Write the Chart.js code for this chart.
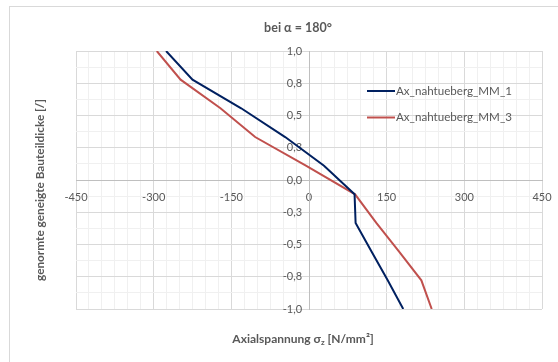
<!DOCTYPE html>
<html>
<head>
<meta charset="utf-8">
<script src="https://cdn.jsdelivr.net/npm/chart.js@4/dist/chart.umd.min.js"></script>
<style>
  html, body { margin: 0; padding: 0; background: #ffffff; }
  #wrap { width: 558px; height: 362px; position: relative; }
</style>
</head>
<body>
<div id="wrap"><canvas id="c" width="558" height="362"></canvas></div>
<script>
// normalised inclined wall thickness (nodes through the section)
const thickness = [1.0, 0.778, 0.556, 0.333, 0.111, -0.111, -0.333, -0.556, -0.778, -1.0];
// axial stress sigma_z in N/mm² for both models
const stressMM1 = [-276, -225, -131, -46, 29, 88, 90, 121, 152, 182];
const stressMM3 = [-294, -248, -171, -104, -6, 89, 130, 174, 217, 237];
const seriesNames = ['Ax_nahtueberg_MM_1', 'Ax_nahtueberg_MM_3'];
const seriesColors = ['#002060', '#C0504D'];
const chartTitle = 'bei \u03b1 = 180\u00b0';
const yTitle = 'genormte geneigte Bauteildicke [/]';

const FONT = 'Lato, "DejaVu Sans", sans-serif';
const TEXT = '#595959';

const toPoints = (xs) => xs.map((x, i) => ({ x: x, y: thickness[i] }));

// frame, titles and in-plot legend
const decor = {
  id: 'decor',
  beforeDraw(chart) {
    const ctx = chart.ctx;
    ctx.save();
    ctx.fillStyle = '#ffffff';
    ctx.fillRect(0, 0, chart.width, chart.height);
    ctx.strokeStyle = '#D9D9D9';
    ctx.lineWidth = 1;
    ctx.strokeRect(9.5, 6.5, 600, 400);
    ctx.restore();
  },
  afterDraw(chart) {
    const ctx = chart.ctx;
    ctx.save();
    ctx.fillStyle = TEXT;
    ctx.textBaseline = 'middle';

    // chart title
    ctx.font = 'bold 12.5px ' + FONT;
    ctx.textAlign = 'center';
    ctx.fillText(chartTitle, 298, 28);

    // x axis title with subscript
    const partA = 'Axialspannung \u03c3';
    const partSub = 'z';
    const partB = ' [N/mm\u00b2]';
    ctx.font = 'bold 12px ' + FONT;
    const wA = ctx.measureText(partA).width;
    const wB = ctx.measureText(partB).width;
    ctx.font = 'bold 8px ' + FONT;
    const wS = ctx.measureText(partSub).width;
    const x0 = 303 - (wA + wS + wB) / 2;
    const yT = 339;
    ctx.textAlign = 'left';
    ctx.font = 'bold 12px ' + FONT;
    ctx.fillText(partA, x0, yT);
    ctx.font = 'bold 8px ' + FONT;
    ctx.fillText(partSub, x0 + wA, yT + 3);
    ctx.font = 'bold 12px ' + FONT;
    ctx.fillText(partB, x0 + wA + wS, yT);

    // y axis title
    ctx.save();
    ctx.translate(40, 190);
    ctx.rotate(-Math.PI / 2);
    ctx.textAlign = 'center';
    ctx.font = 'bold 11.8px ' + FONT;
    ctx.fillText(yTitle, 0, 0);
    ctx.restore();

    // legend
    ctx.font = '11.6px ' + FONT;
    ctx.textAlign = 'left';
    chart.data.datasets.forEach((ds, i) => {
      const ly = 91 + i * 26.5;
      ctx.strokeStyle = ds.borderColor;
      ctx.lineWidth = 2;
      ctx.beginPath();
      ctx.moveTo(367, ly);
      ctx.lineTo(395, ly);
      ctx.stroke();
      ctx.fillStyle = TEXT;
      ctx.fillText(ds.label, 396, ly);
    });
    ctx.restore();
  }
};

const isMajorX = (v) => Math.abs(Math.round(v / 25)) % 6 === 0;
const isMajorY = (v) => Math.abs(Math.round(v * 8)) % 2 === 0;
// y labels sit right-aligned on the centred axis; trailing space keeps a gap
const fmtY = (v) => (Math.round(v * 100) / 100).toFixed(1).replace('.', ',') + '\u2002\u2009';

new Chart(document.getElementById('c'), {
  type: 'scatter',
  data: {
    datasets: [
      {
        label: seriesNames[0],
        data: toPoints(stressMM1),
        showLine: true,
        borderColor: seriesColors[0],
        backgroundColor: seriesColors[0],
        borderWidth: 2,
        pointRadius: 0,
        tension: 0
      },
      {
        label: seriesNames[1],
        data: toPoints(stressMM3),
        showLine: true,
        borderColor: seriesColors[1],
        backgroundColor: seriesColors[1],
        borderWidth: 2,
        pointRadius: 0,
        tension: 0
      }
    ]
  },
  options: {
    responsive: false,
    animation: false,
    devicePixelRatio: 1,
    layout: { padding: { left: 76, top: 51, right: 16, bottom: 53 } },
    plugins: {
      legend: { display: false },
      title: { display: false },
      tooltip: { enabled: false }
    },
    scales: {
      x: {
        type: 'linear',
        position: { y: 0 },
        min: -450,
        max: 450,
        ticks: {
          stepSize: 25,
          autoSkip: false,
          maxRotation: 0,
          padding: 3,
          color: TEXT,
          font: { family: FONT, size: 11 },
          callback: (v) => isMajorX(v) ? String(Math.round(v)) : ''
        },
        grid: {
          color: (c) => isMajorX(c.tick.value) ? '#D9D9D9' : '#F0F0F0',
          lineWidth: 1,
          drawTicks: true,
          tickLength: 8,
          tickColor: 'rgba(0,0,0,0)'
        },
        border: { color: '#BFBFBF', width: 1 }
      },
      y: {
        type: 'linear',
        position: { x: 0 },
        min: -1,
        max: 1,
        ticks: {
          stepSize: 0.125,
          autoSkip: false,
          padding: 3,
          color: TEXT,
          font: { family: FONT, size: 11 },
          callback: (v) => isMajorY(v) ? fmtY(v) : ''
        },
        grid: {
          color: (c) => isMajorY(c.tick.value) ? '#D9D9D9' : '#F0F0F0',
          lineWidth: 1,
          drawTicks: true,
          tickLength: 10,
          tickColor: 'rgba(0,0,0,0)'
        },
        border: { color: '#BFBFBF', width: 1 }
      }
    }
  },
  plugins: [decor]
});
</script>
</body>
</html>
